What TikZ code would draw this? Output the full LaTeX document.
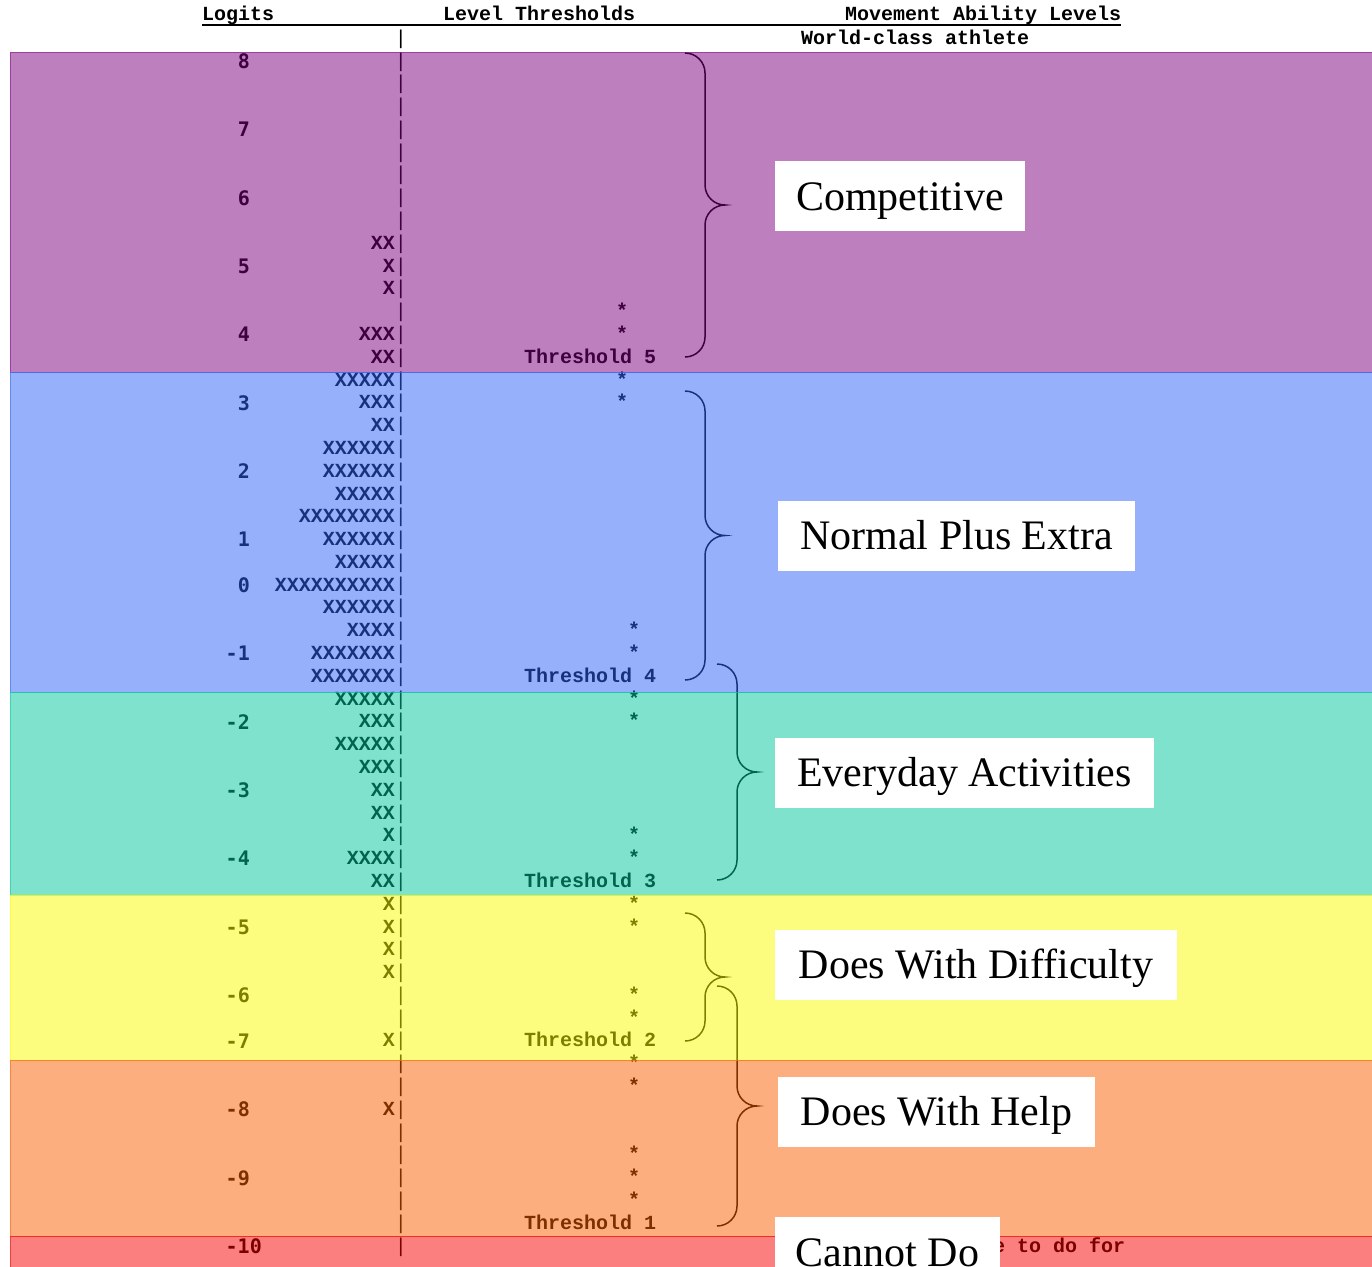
\documentclass[tikz,border=0pt]{standalone}
\usepackage{fontspec}
\setmainfont{Liberation Serif}
\newfontfamily\mapmono{Liberation Mono}
\newfontfamily\logitmono{DejaVu Sans Mono}
\usepackage{xcolor}
\usepackage{tikz}

\definecolor{bandpurple}{RGB}{127,0,127}
\definecolor{bandblue}{RGB}{47,99,251}
\definecolor{bandteal}{RGB}{1,199,155}
\definecolor{bandyellow}{RGB}{251,251,0}
\definecolor{bandorange}{RGB}{251,95,0}
\definecolor{bandred}{RGB}{251,0,0}

% right brace: x of the ends, top, bottom (page pixels)
\newcommand{\levelbrace}[3]{%
  \pgfmathsetmacro{\bracemid}{-(#2+#3)/2}
  \draw[bracepath] (#1,-#2) arc[start angle=90, end angle=0, radius=20pt]
    -- (#1+20,\bracemid+20) arc[start angle=180, end angle=270, radius=20pt]
    arc[start angle=90, end angle=180, radius=20pt]
    -- (#1+20,-#3+20) arc[start angle=0, end angle=-90, radius=20pt];}

\begin{document}
\begin{tikzpicture}[x=1pt, y=1pt,
    mono/.style={font=\mapmono\bfseries\fontsize{20}{20}\selectfont, inner sep=0pt, anchor=base east},
    barmono/.style={font=\mapmono\fontsize{20}{20}\selectfont, inner sep=0pt, anchor=base east},
    logit/.style={font=\logitmono\bfseries\fontsize{20}{20}\selectfont, inner sep=0pt, anchor=base east},
    band/.style={fill=#1, fill opacity=0.5, draw=#1, draw opacity=0.5, line width=0.8pt},
    levelbox/.style={fill=white, font=\fontsize{42}{42}\selectfont, minimum height=70pt,
      inner sep=0pt, text height=28pt, text depth=0pt},
    bracepath/.style={line width=1.5pt}]

            \path[use as bounding box, clip] (0,0) rectangle (1372,-1266);
            \fill[white] (0,0) rectangle (1372,-1266);

            % Header
            \node[mono, anchor=base west] (hlogits) at (202,-20) {Logits};
            \node[mono, anchor=base west] (hthresh) at (443,-20) {Level Thresholds};
            \node[mono, anchor=base west] (hlevels) at (845,-20) {Movement Ability Levels};
            \draw[line width=2pt] ([yshift=-5pt]hlogits.base west) -- ([yshift=-5pt]hlevels.base east);
            \node[mono, anchor=base west] (athlete) at (801,-44) {World-class athlete};

            % Map column
            \foreach \r in {-1,...,52}
                \node[barmono] (bar\r) at (407,{-(67+22.79*\r)}) {|};
            \foreach \r/\s in {8/XX, 9/X, 10/X, 12/XXX, 13/XX, 14/XXXXX, 15/XXX, 16/XX,
                    17/XXXXXX, 18/XXXXXX, 19/XXXXX, 20/XXXXXXXX, 21/XXXXXX, 22/XXXXX,
                    23/XXXXXXXXXX, 24/XXXXXX, 25/XXXX, 26/XXXXXXX, 27/XXXXXXX, 28/XXXXX,
                    29/XXX, 30/XXXXX, 31/XXX, 32/XX, 33/XX, 34/X, 35/XXXX, 36/XX,
                    37/X, 38/X, 39/X, 40/X, 43/X, 46/X}
                \node[mono] (hist\r) at (395,{-(67+22.79*\r)}) {\s};

            % Logits
            \foreach \r/\v in {0/8, 3/7, 6/6, 9/5, 12/4, 15/3, 18/2, 21/1, 23/0, 26/-1,
                    29/-2, 32/-3, 35/-4, 38/-5, 41/-6, 43/-7, 46/-8, 49/-9}
                \node[logit] (logit\r) at (250,{-(68.3+22.79*\r)}) {\v};
            \node[logit] (logit52) at (262,{-(68.3+22.79*52)}) {-10};

            % Thresholds
            \foreach \r in {11,12,14,15}
                \node[mono, anchor=base west] (star\r) at (616,{-(67+22.79*\r)}) {*};
            \foreach \r in {25,26,28,29,34,35,37,38,41,42,44,45,48,49,50}
                \node[mono, anchor=base west] (star\r) at (628,{-(67+22.79*\r)}) {*};
            \foreach \r/\t in {13/5, 27/4, 36/3, 43/2, 51/1}
                \node[mono, anchor=base west] (thr\t) at (524,{-(67+22.79*\r)}) {Threshold \t};
            \node[mono, anchor=base west] (unable) at (993,{-(67+22.79*52)}) {e to do for};

            % Braces
            \levelbrace{685}{53}{357}
            \levelbrace{685}{391}{680}
            \levelbrace{717}{664}{880}
            \levelbrace{685}{913}{1041}
            \levelbrace{717}{986}{1226}

            % Bands
            \path[band=bandpurple] (10,-52) rectangle (1380,-372);
            \path[band=bandblue] (10,-372) rectangle (1380,-692);
            \path[band=bandteal] (10,-692) rectangle (1380,-895);
            \path[band=bandyellow] (10,-895) rectangle (1380,-1060);
            \path[band=bandorange] (10,-1060) rectangle (1380,-1236);
            \path[band=bandred] (10,-1236) rectangle (1380,-1290);

            % Levels
            \node[levelbox, minimum width=250pt] (competitive) at (900,-196) {Competitive};
            \node[levelbox, minimum width=357pt] (normalplus) at (956.5,-535.5) {Normal Plus Extra};
            \node[levelbox, minimum width=379pt] (everyday) at (964.5,-772.5) {Everyday Activities};
            \node[levelbox, minimum width=402pt] (difficulty) at (976,-964.5) {Does With Difficulty};
            \node[levelbox, minimum width=317pt] (withhelp) at (936.5,-1111.5) {Does With Help};
            \node[levelbox, minimum width=225pt] (cannotdo) at (887.5,-1252) {Cannot Do};

        \end{tikzpicture}
\end{document}
